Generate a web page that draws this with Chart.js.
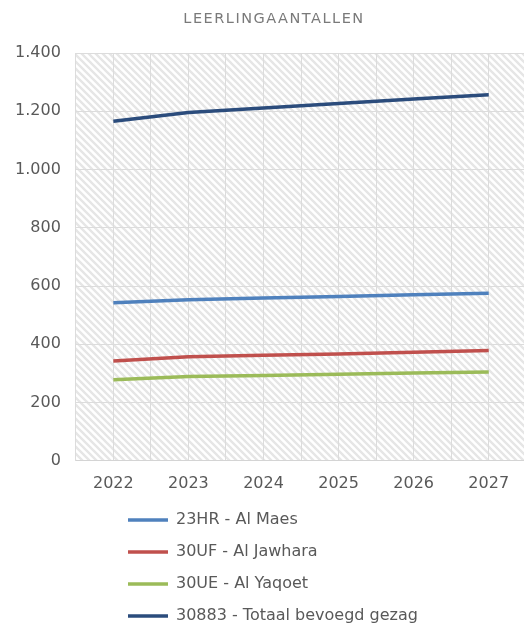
<!DOCTYPE html>
<html>
<head>
<meta charset="utf-8">
<script src="https://cdn.jsdelivr.net/npm/chart.js@4.4.1/dist/chart.umd.min.js"></script>
<style>
html, body { margin: 0; padding: 0; background: #ffffff; }
#wrap { width: 524px; height: 629px; }
</style>
</head>
<body>
<div id="wrap"><canvas id="c" width="524" height="629"></canvas></div>
<script>
// ---- data ----
const chartTitle = 'LEERLINGAANTALLEN';
const years = [2022, 2023, 2024, 2025, 2026, 2027];
const seriesNames = ['23HR - Al Maes', '30UF - Al Jawhara', '30UE - Al Yaqoet', '30883 - Totaal bevoegd gezag'];
const alMaes    = [543, 553, 559, 564, 570, 575];
const alJawhara = [343, 357, 362, 367, 373, 379];
const alYaqoet  = [278, 289, 293, 297, 301, 305];
const totaal    = [1166, 1196, 1211, 1227, 1242, 1257];
const yTickValues = [0, 200, 400, 600, 800, 1000, 1200, 1400];

// ---- styles ----
const seriesColors = ['#4f81bd', '#c0504d', '#9bbb59', '#2b4c7c'];
const seriesValues = [alMaes, alJawhara, alYaqoet, totaal];

Chart.defaults.font.family = '"DejaVu Sans", Verdana, sans-serif';

function formatThousands(v) {
  return String(v).replace(/\B(?=(\d{3})+(?!\d))/g, '.');
}

// hatch pattern for plot area
function makeHatch() {
  const s = 7;
  const p = document.createElement('canvas');
  p.width = s; p.height = s;
  const g = p.getContext('2d');
  g.fillStyle = '#ffffff';
  g.fillRect(0, 0, s, s);
  g.strokeStyle = '#e6e6e6';
  g.lineWidth = 2.4;
  g.beginPath();
  for (const off of [-s, 0, s]) {
    g.moveTo(off - 1, -1);
    g.lineTo(off + s + 1, s + 1);
  }
  g.stroke();
  return g.createPattern(p, 'repeat');
}

const tweaks = {
  id: 'tweaks',
  afterInit(chart) {
    const lg = chart.legend;
    const fit0 = lg.fit.bind(lg);
    lg.fit = function () { fit0(); this.height = 123; };
    const tb = chart.titleBlock;
    const draw0 = tb.draw.bind(tb);
    tb.draw = function () {
      const c = this.ctx;
      c.save();
      c.letterSpacing = '1.5px';
      draw0();
      c.restore();
    };
  },
  afterLayout(chart) {
    const lg = chart.legend;
    lg.left = 112; lg.right = 480; lg.top = 496; lg.bottom = 629;
    const tb = chart.titleBlock;
    tb.left += 12; tb.right += 12;
  },
  beforeDraw(chart) {
    const a = chart.chartArea;
    const ctx = chart.ctx;
    if (!chart.$hatch) chart.$hatch = makeHatch();
    ctx.save();
    ctx.fillStyle = chart.$hatch;
    ctx.fillRect(a.left, a.top, a.right - a.left, a.bottom - a.top);
    ctx.restore();
  }
};

const datasets = seriesNames.map((name, i) => ({
  label: name,
  data: years.map((yr, j) => ({ x: yr, y: seriesValues[i][j] })),
  borderColor: seriesColors[i],
  backgroundColor: seriesColors[i],
  borderWidth: 3.5,
  pointRadius: 0,
  pointHoverRadius: 0,
  tension: 0,
  fill: false
}));

new Chart(document.getElementById('c'), {
  type: 'line',
  data: { datasets },
  plugins: [tweaks],
  options: {
    responsive: false,
    animation: false,
    events: [],
    layout: { padding: { left: 0, right: 0, top: 0, bottom: 0 } },
    scales: {
      x: {
        type: 'linear',
        min: years[0] - 0.5,
        max: years[years.length - 1] + 0.47,
        grid: { color: '#dcdcdc', lineWidth: 1, drawTicks: false },
        border: { color: '#d4d4d4', width: 1 },
        ticks: {
          stepSize: 0.5,
          includeBounds: false,
          autoSkip: false,
          maxRotation: 0,
          padding: 13,
          color: '#595959',
          font: { size: 16 },
          callback: (v) => (Number.isInteger(v) && years.includes(v)) ? String(v) : ''
        }
      },
      y: {
        min: yTickValues[0],
        max: yTickValues[yTickValues.length - 1],
        grid: { color: '#dcdcdc', lineWidth: 1, drawTicks: false },
        border: { color: '#dcdcdc', width: 1 },
        afterBuildTicks: (scale) => { scale.ticks = yTickValues.map(v => ({ value: v })); },
        ticks: {
          padding: 15,
          color: '#595959',
          font: { size: 16 },
          callback: (v) => formatThousands(v)
        }
      }
    },
    plugins: {
      title: {
        display: true,
        text: chartTitle,
        color: '#7a7a7a',
        font: { size: 14.5, weight: 'normal' },
        padding: { top: 11, bottom: 24.6 }
      },
      legend: {
        display: true,
        position: 'bottom',
        align: 'start',
        labels: {
          usePointStyle: true,
          pointStyle: 'line',
          pointStyleWidth: 40,
          padding: 16,
          color: '#595959',
          font: { size: 16 }
        }
      },
      tooltip: { enabled: false }
    }
  }
});
</script>
</body>
</html>
